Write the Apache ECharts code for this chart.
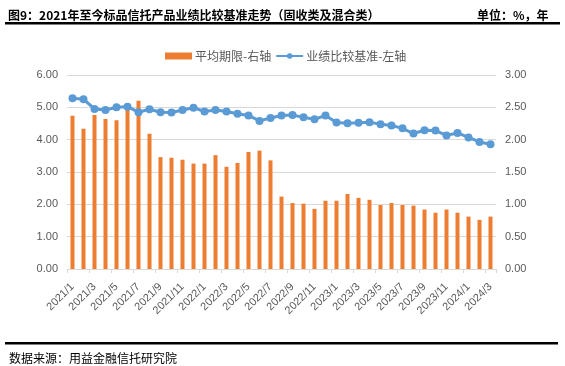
<!DOCTYPE html>
<html>
<head>
<meta charset="utf-8">
<script src="https://cdn.jsdelivr.net/npm/echarts@6/dist/echarts.min.js"></script>
<style>html,body{margin:0;padding:0;background:#fff}#c{width:565px;height:366px}</style>
</head>
<body>
<div id="c"></div>
<script>
var categories = [];
(function(){ for (var y = 2021; y <= 2024; y++) { for (var m = 1; m <= 12; m++) { if (y === 2024 && m > 3) break; categories.push(y + '/' + m); } } })();

// 平均期限 (年) - right axis
var durationValues = [2.37, 2.17, 2.38, 2.32, 2.30, 2.48, 2.60, 2.09, 1.73, 1.72,
  1.69, 1.63, 1.63, 1.76, 1.58, 1.64, 1.81, 1.83, 1.68, 1.12,
  1.02, 1.01, 0.93, 1.055, 1.055, 1.16, 1.10, 1.07, 0.99, 1.02,
  0.99, 0.98, 0.92, 0.87, 0.92, 0.87, 0.81, 0.76, 0.81];

// 业绩比较基准 (%) - left axis
var benchmarkValues = [5.28, 5.25, 4.95, 4.92, 5.00, 5.02, 4.85, 4.94, 4.85, 4.84,
  4.92, 4.99, 4.87, 4.92, 4.87, 4.80, 4.75, 4.58, 4.67, 4.75,
  4.76, 4.69, 4.63, 4.75, 4.53, 4.51, 4.52, 4.54, 4.48, 4.44,
  4.35, 4.19, 4.29, 4.28, 4.13, 4.21, 4.07, 3.93, 3.86];

var seriesNames = ['平均期限-右轴', '业绩比较基准-左轴'];
var titleText = '图9：2021年至今标品信托产品业绩比较基准走势（固收类及混合类）';
var unitText = '单位：%，年';
var sourceText = '数据来源：用益金融信托研究院';

var chart = echarts.init(document.getElementById('c'), null, {renderer: 'canvas'});
var fontCJK = '"Noto Sans CJK SC", "Noto Sans", sans-serif';
var fontNum = 'Arial, "Liberation Sans", sans-serif';
var axisLabelColor = '#595959';

chart.setOption({
  animation: false,
  textStyle: {fontFamily: fontCJK},
  title: [
    {text: titleText, left: 3, top: 4, textStyle: {fontSize: 12, fontWeight: 'bold', color: '#000', fontFamily: fontCJK}},
    {text: unitText, left: 472, top: 4, textStyle: {fontSize: 12, fontWeight: 'bold', color: '#000', fontFamily: fontCJK}},
    {text: sourceText, left: 4, top: 347, textStyle: {fontSize: 12, fontWeight: 'normal', color: '#000', fontFamily: fontCJK}}
  ],
  graphic: [
    {type: 'rect', shape: {x: 5, y: 22, width: 555, height: 2.5}, style: {fill: '#000'}},
    {type: 'rect', shape: {x: 5, y: 342, width: 553, height: 2.5}, style: {fill: '#000'}}
  ],
  legend: {
    left: 160, top: 45,
    itemGap: 4,
    itemWidth: 27,
    itemHeight: 7,
    textStyle: {fontSize: 12, color: axisLabelColor, fontFamily: fontCJK, padding: [0, 0, 0, -2]},
    data: [
      {name: seriesNames[0], icon: 'rect'},
      {name: seriesNames[1]}
    ]
  },
  grid: {left: 67, right: 69, top: 75, bottom: 97, containLabel: false},
  xAxis: {
    type: 'category',
    data: categories,
    boundaryGap: true,
    axisLine: {lineStyle: {color: '#d9d9d9', width: 1}},
    axisTick: {show: true, interval: 1, length: 4, lineStyle: {color: '#d9d9d9'}},
    axisLabel: {interval: 1, rotate: 45, fontSize: 11, color: axisLabelColor, fontFamily: fontNum, margin: 16},
    splitLine: {show: false}
  },
  yAxis: [
    {
      type: 'value', min: 0, max: 6, interval: 1, position: 'left',
      axisLine: {show: false}, axisTick: {show: false},
      axisLabel: {formatter: function(v){return v.toFixed(2);}, fontSize: 11, color: axisLabelColor, fontFamily: fontNum, margin: 9},
      splitLine: {lineStyle: {color: '#d9d9d9', width: 1}}
    },
    {
      type: 'value', min: 0, max: 3, interval: 0.5, position: 'right',
      axisLine: {show: false}, axisTick: {show: false},
      axisLabel: {formatter: function(v){return v.toFixed(2);}, fontSize: 11, color: axisLabelColor, fontFamily: fontNum, margin: 9},
      splitLine: {show: false}
    }
  ],
  series: [
    {
      name: seriesNames[0], type: 'bar', yAxisIndex: 1,
      data: durationValues, barWidth: 4,
      itemStyle: {color: '#ed7d31'}
    },
    {
      name: seriesNames[1], type: 'line', yAxisIndex: 0,
      data: benchmarkValues,
      symbol: 'circle', symbolSize: 8, showAllSymbol: true,
      lineStyle: {color: '#5b9bd5', width: 3},
      itemStyle: {color: '#5b9bd5'},
      z: 3
    }
  ]
});
</script>
</body>
</html>
